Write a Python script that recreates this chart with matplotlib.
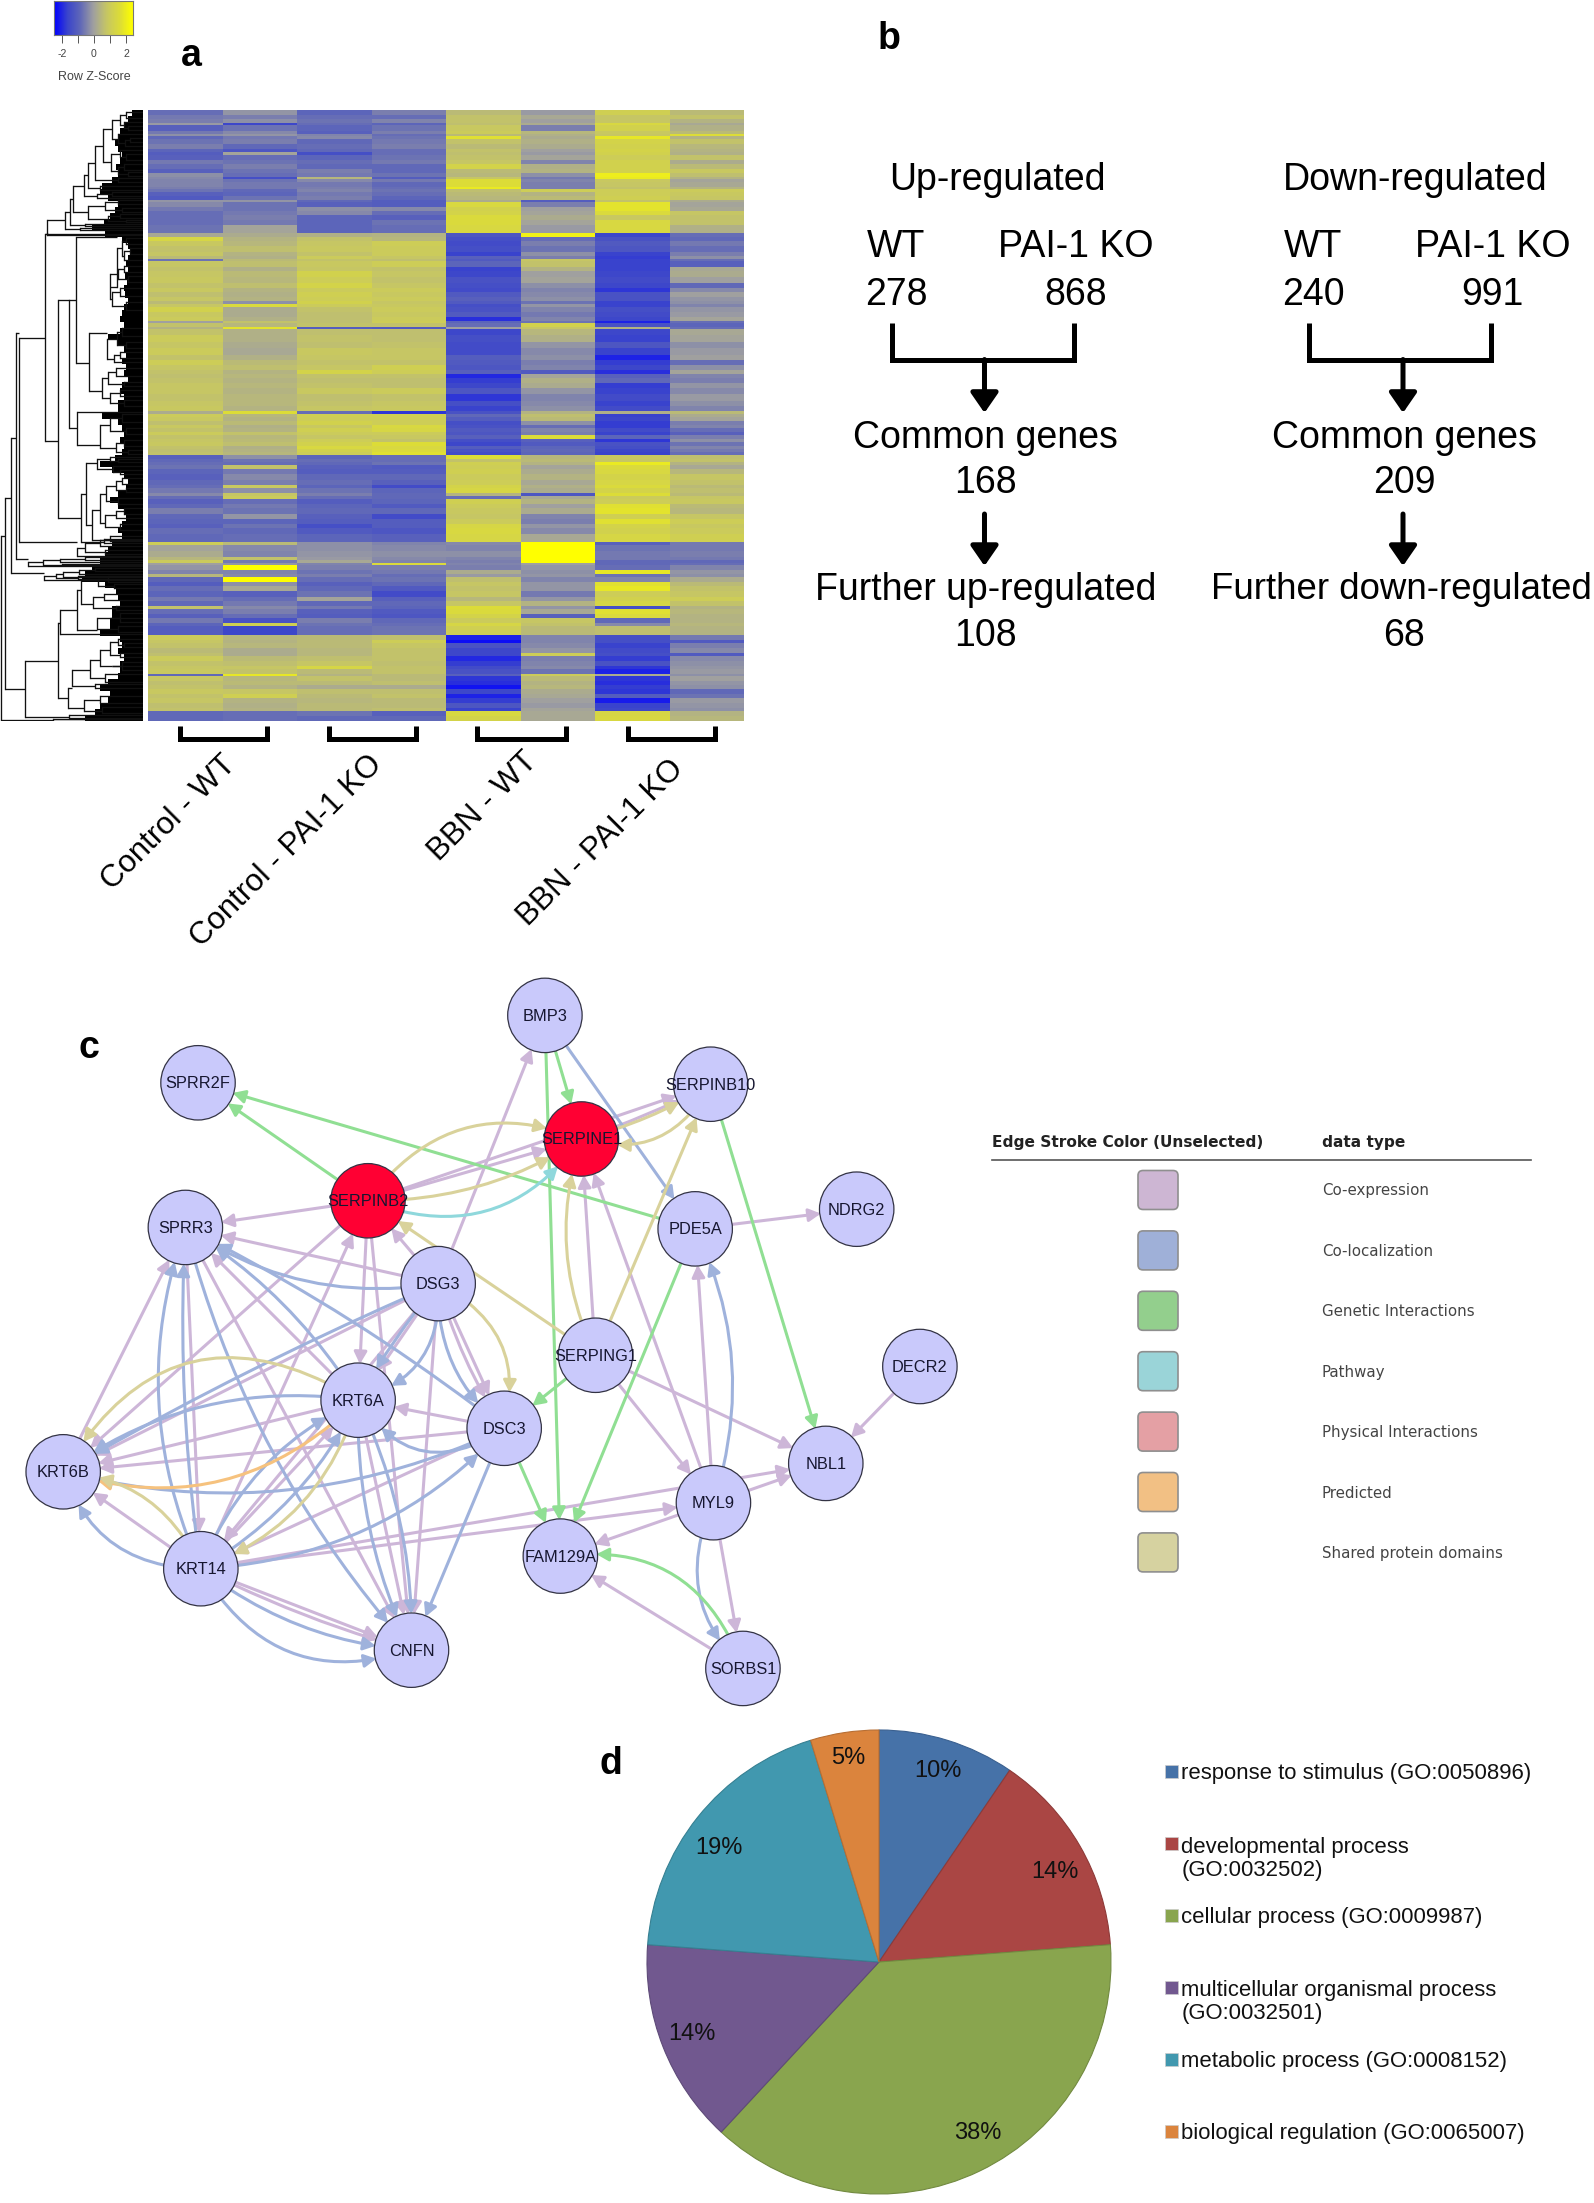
import numpy as np
import matplotlib
matplotlib.use('Agg')
import matplotlib.pyplot as plt
from matplotlib.colors import LinearSegmentedColormap
from matplotlib.patches import FancyArrowPatch, FancyBboxPatch, Rectangle

plt.rcParams['font.family'] = ['Liberation Sans', 'DejaVu Sans']

# %%
# panel a: heat map bands, genes per band and row z-scores of the 8 samples
band_genes = [
    5, 4, 4, 2, 6, 3, 2, 3, 5, 5, 3, 3, 5, 4, 5, 4, 4, 2, 3, 5, 2, 3, 4, 4, 2, 5, 4, 4, 5, 5, 8,
    4, 4, 5, 6, 4, 3, 2, 6, 4, 6, 6, 5, 4, 5, 4, 3, 3, 5, 5, 4, 2, 4, 2, 6, 7, 6, 7, 5, 5, 5, 4, 4, 5, 5, 6, 7, 5, 5,
    3, 3, 4, 4, 3, 4, 3, 4, 3, 4, 3, 3, 3,
    4, 3, 3, 4, 5, 6, 5, 3, 5, 3, 3, 5, 4, 6, 5, 5, 4, 6, 8,
    3, 6, 6, 3, 3,
    2, 5, 4, 3, 5, 4, 5, 6, 4, 5, 3, 5, 4, 5, 3, 9,
    5, 3, 5, 5, 3, 5, 5, 3, 5, 2, 5, 4, 4, 5, 4, 5, 5, 3, 5, 5,
]
band_z = [
    [-.9, -.2, -1.1, -.6, .7, -.1, 1.4, .7],
    [-.7, -.6, -.9, -.9, .9, .2, 1.0, .9],
    [-.6, -.3, -.8, -.5, .9, .0, 1.0, .5],
    [-.1, -1.9, -.9, -1.1, .8, .3, 1.8, .2],
    [-1.2, -.8, -1.1, -.8, 1.1, -.6, 1.5, .4],
    [-.7, -.4, -1.2, -.6, 1.2, .6, 1.1, .7],
    [-.3, -.2, -.5, -.9, .7, .4, 1.0, 2.0],
    [-1.0, -.7, -.4, -.8, 2.1, .3, 2.3, .5],
    [-.8, -.6, -1.0, -.7, .9, .4, 1.6, .9],
    [-.6, -1.0, -.9, -.6, .7, .3, 1.5, .6],
    [-1.1, -1.5, -1.0, -.9, .9, .0, 1.6, .5],
    [-1.3, .1, -1.7, -.9, .8, -.1, 1.5, .4],
    [-1.2, -.9, -1.1, -.8, .9, .1, 1.3, .9],
    [-.7, -.8, -.9, -.7, 1.0, -.5, 1.5, .3],
    [-.9, -.6, -1.0, -1.0, 1.6, .4, 1.5, .7],
    [-1.2, -.8, -.6, -1.0, .7, .5, 1.5, 1.1],
    [-.3, -.9, -.7, -.8, .6, -.3, 2.5, .8],
    [-.4, -1.7, .6, -1.3, 1.0, -.7, 2.4, .5],
    [-.5, -.8, -.4, -.7, 2.0, -.5, 1.1, .1],
    [-.5, -.7, -.7, -1.0, 2.0, -.6, 1.0, .2],
    [-.6, -.7, -.6, -.9, 2.4, -.6, .9, .5],
    [-.8, -1.0, -.5, -.8, .8, 1.3, 1.3, 1.2],
    [-1.2, -1.1, -.7, -.9, .7, .5, 1.3, 1.1],
    [-1.4, -.8, -.6, -1.1, .6, .7, 1.4, 1.0],
    [-.2, -.2, -1.0, -1.3, .3, -1.3, .9, .3],
    [-.4, -.8, -1.2, -1.3, 1.8, -.6, 2.2, .1],
    [-.7, -.8, -.3, -.4, 1.5, .0, 2.2, .2],
    [-.9, -.7, -.4, -.9, 1.6, .1, 1.9, 1.0],
    [-.9, -.6, -1.1, -1.2, 1.9, .3, 1.1, .9],
    [-.9, -.7, -1.1, -.8, 1.9, .1, 1.8, .9],
    [-.8, .1, -1.1, -.9, 1.8, -.1, 1.8, .4],
    # yellow controls
    [.2, .3, .4, .5, -1.5, 2.6, -1.9, -.9],
    [1.7, .5, .9, .6, -1.7, -.9, -1.6, -1.0],
    [1.1, .6, 1.0, 1.3, -1.8, -.6, -1.4, -.7],
    [.9, .8, 1.1, 1.2, -1.7, -.8, -1.5, -.9],
    [1.0, .5, .9, 1.2, -2.0, -.3, -2.0, -.6],
    [.7, .4, 1.2, 1.0, -1.2, -.6, -2.1, -.3],
    [-.8, .7, .9, .8, -1.4, 1.0, -2.0, -.9],
    [1.0, .8, 1.1, 1.3, -1.1, .9, -2.0, -1.2],
    [.9, .4, 1.0, .9, -2.0, .5, -2.0, .2],
    [1.0, .7, 1.5, 1.0, -1.9, .0, -1.9, .3],
    [1.1, .6, 1.3, .9, -1.6, .1, -1.8, .0],
    [.9, .8, 1.6, 1.0, -1.7, -.3, -1.9, -1.0],
    [1.1, .5, 1.2, 1.2, -1.8, -.5, -2.2, -.4],
    [.8, .4, 1.4, 1.1, -1.4, -.4, -1.6, .0],
    [1.0, .5, 1.3, 1.2, -1.2, -.3, -1.6, -.2],
    [.7, -.3, 1.5, 1.0, -1.4, -.8, -2.0, -.3],
    [1.0, 1.9, 1.2, 1.1, -1.7, -.2, -2.0, -.5],
    [1.5, .3, .9, 1.2, -1.6, -.5, -1.7, -.2],
    [1.1, .3, .8, 1.1, -1.4, -.7, -1.8, -.1],
    [1.2, .4, .8, 1.2, -2.3, -.5, -1.9, .1],
    [.0, .9, .8, 1.3, -1.1, -.8, -2.5, -.9],
    [.9, .6, .9, .9, -.9, 1.5, -1.6, -1.1],
    [.5, 2.2, -1.3, -1.4, .0, 1.0, .5, -.9],
    [.9, .4, .8, .8, -1.9, .6, -1.9, .2],
    [1.2, .4, .9, .8, -1.7, .4, -2.0, .1],
    [1.0, .3, .8, .9, -1.8, -.2, -1.5, -.3],
    [1.2, .2, 1.1, 1.0, -1.8, -.4, -2.0, -.1],
    [.9, .4, 1.0, 1.0, -1.3, -.3, -2.5, .0],
    [1.3, .7, .9, .9, -1.4, -.6, -2.1, -.9],
    [1.0, .8, 1.0, 1.4, -1.5, -.5, -1.9, -.3],
    [.9, .5, 1.6, 1.3, -1.2, -1.4, -2.3, .1],
    [.8, .6, .9, .9, -2.4, .1, -1.2, -.5],
    [.9, .5, .8, .8, -2.1, .4, -1.0, -.6],
    [1.0, .6, .9, .8, -1.9, .3, -2.1, -.2],
    [1.0, .5, 1.1, 1.2, -1.5, -.2, -2.0, -.4],
    [.9, .6, .8, .9, -2.2, -.5, -1.8, -.1],
    [1.0, .6, .9, 1.0, -1.7, -.4, -2.0, -.3],
    [1.1, .5, 1.0, 1.1, -2.0, -.3, -1.8, -.5],
    [.3, 2.0, -.9, -2.2, -1.6, .5, .4, .7],
    [1.2, .6, 1.4, 1.4, -1.0, .8, -2.0, .3],
    [1.1, .5, 1.3, 1.3, -1.3, .7, -1.9, .1],
    [.8, .7, 1.5, 1.3, -1.7, -.3, -2.1, -.6],
    [1.1, .4, 1.1, 1.8, -1.6, -.9, -2.1, -.5],
    [.9, .5, 1.4, 1.7, -1.4, -.5, -1.8, -.9],
    [1.2, .9, 1.2, 1.2, -1.5, -.6, -2.0, -1.2],
    [.9, .6, 1.0, 1.1, -1.2, 2.0, -1.1, -.6],
    [1.0, .7, 1.3, .9, -1.7, -1.2, -2.2, -.3],
    [1.1, .8, 1.5, 2.0, -1.9, -1.4, -1.6, -.8],
    [.9, .4, 1.8, 1.8, -1.3, -1.1, -1.7, -.5],
    [.8, .5, 1.5, 1.9, -1.6, -1.0, -1.9, -.7],
    [.9, .6, 1.3, 2.1, -1.8, -1.1, -2.0, -.9],
    # blue controls
    [-1.2, -.3, -1.1, -.9, 2.0, .6, 1.1, .8],
    [-1.0, -.8, -.9, -.9, .9, .7, 1.0, .9],
    [-.9, -.9, -1.0, -.8, 1.4, .5, 2.4, .5],
    [-.8, .9, -1.2, -1.4, 1.3, .1, 1.9, .2],
    [-1.1, -.7, -1.3, -1.3, 1.4, .3, 1.8, .6],
    [-1.2, -.4, -1.0, -1.0, 1.2, .5, 1.6, 1.0],
    [-1.0, -.6, -.9, -1.2, 1.3, .2, 1.7, .9],
    [-.9, 1.1, -1.1, -1.8, 1.6, .4, 1.9, .7],
    [-.7, -.3, -.8, -1.1, 1.7, .3, 1.6, .8],
    [-.4, 1.0, -.6, -1.0, .5, -1.5, 2.0, .7],
    [-.9, 1.2, -.9, -1.0, -.9, .2, 1.2, 1.0],
    [-1.2, -.9, -1.3, -1.1, 1.4, .5, 1.3, 1.1],
    [-1.0, -.7, -1.1, -1.4, 1.2, .0, 2.1, .7],
    [-.6, -.8, -1.0, -1.0, 1.1, .3, 2.2, .6],
    [-1.0, -.2, -1.2, -1.8, 1.0, -.5, 1.4, 1.0],
    [-1.1, -1.1, -1.3, -1.3, 1.2, -.6, 2.1, 1.3],
    [-1.2, -.8, -1.7, -1.3, 1.7, -.2, 1.6, 1.1],
    [-.9, -1.0, -1.4, -1.5, 1.8, -.4, 1.5, 1.2],
    [-1.0, -.9, -1.1, -1.2, 1.7, .2, 1.7, 1.4],
    # gray block
    [1.3, .7, -.3, -.5, -.4, 3, -1.2, -.7],
    [.1, -.4, -.3, -.4, -.5, 3, -.8, -.7],
    [.3, -.5, -.2, -.3, -.3, 3, -.7, -.6],
    [.6, .9, -.1, -.4, -.5, 3, -.7, -.7],
    [1.2, -.7, .2, -.5, -.6, 3, -1.0, -1.0],
    [.0, -.2, -.5, 1.9, -.5, .0, -1.0, -.9],
    [-.2, 3, -.6, -.6, -.6, -.2, -.9, -.5],
    [-.5, -.5, -.8, -.7, .3, -.3, 2.3, -.2],
    [.6, -.4, -.6, -.9, -.1, -.2, -.8, -.3],
    [-1.0, 3, -.9, -.8, .8, -.5, -.5, .3],
    [-1.3, -.3, -1.2, -1.0, 1.0, -.2, 2.1, .7],
    [-.9, .2, -1.0, -1.4, .9, -.2, 2.3, .9],
    [-1.1, -1.2, -.8, -1.8, 1.0, -.7, 1.3, 1.0],
    [-.7, -.9, .1, -1.2, .6, -.2, 1.5, 1.3],
    [-1.0, -.7, -1.0, -1.0, 1.0, .5, 1.7, .9],
    [.9, -.4, -.7, -1.1, 2.0, -.2, -1.7, .5],
    [-.9, -.6, -1.2, -1.4, 1.9, .2, 2.1, .6],
    [-1.2, -.9, -1.3, -1.5, 1.6, -1.2, 1.9, .5],
    [-.7, -1.6, -.6, -1.0, 1.2, 1.0, -1.0, .5],
    [-1.1, 1.4, -.8, -.9, 1.7, .9, -.4, .6],
    [-1.3, -1.9, -.9, -.8, 1.4, .7, .8, .5],
    # bottom block
    [1.2, .6, .7, .8, -2.5, -.5, -1.7, -.7],
    [1.0, .5, .7, 1.3, -2.8, -.5, -1.7, -1.4],
    [.9, .6, .7, 1.0, -1.6, -.4, -2.0, -.6],
    [.7, .3, .6, .9, -1.9, -.2, -1.8, -.4],
    [.8, .3, .6, .9, -1.9, 1.3, -1.7, -1.4],
    [1.2, .7, .8, .9, -2.4, -.6, -2.1, -.4],
    [.9, .8, 1.0, .8, -2.1, -.5, -1.6, -.3],
    [1.0, 1.0, 1.7, .9, -1.8, -.4, -2.2, -.2],
    [1.1, .9, .7, .9, -1.6, -.8, -2.5, -.1],
    [-1.0, 2.3, .5, .7, -1.2, 1.2, .3, -.3],
    [1.0, .6, .9, .7, -2.2, .7, -2.2, .0],
    [.8, .7, .7, .8, -2.3, .5, -2.3, -.2],
    [.9, .5, .3, .3, -2.7, .6, -2.1, -.3],
    [1.1, 1.0, .8, .8, -1.9, .3, -2.2, -1.0],
    [.9, 1.4, .7, .9, -2.5, .2, -1.3, -.8],
    [1.0, .5, .6, .7, -2.1, .0, -2.6, -.1],
    [.8, .4, .7, .7, -1.5, -.1, -2.0, -.2],
    [.9, .5, .7, .8, -2.0, .1, -1.9, -.3],
    [-1.0, -.9, -.8, -1.2, 1.8, .2, 1.7, .5],
    [-1.0, -.9, -1.0, -1.0, 1.6, .2, 1.8, .6],
]
group_labels = ['Control - WT', 'Control - PAI-1 KO', 'BBN - WT', 'BBN - PAI-1 KO']

# dendrogram merge tree: (height, a, b) or (height, row, a, b), a plain number is a leaf row
top_tree = (47, 123,
    (65,
        (70,
            (73,
                (84,
                    (88,
                        (95,
                            (103,
                                (112, (120, (126, 2, 8), (124, 12, (128, 16, 20))), (118, 24, (125, (130, 28, 32), 36))),
                                (111, (120, 40, (126, 44, 50)), (118, (124, 54, 60), (128, 62, 66)))),
                            (118, 68, 72)),
                        (100, 76, 80)),
                    (97, (112, 82, 86), 88)),
                (88, (105, (118, 90, 94), (122, 98, 102)), (108, (120, 104, 108), (126, 110, 112)))),
            (85, 114, 116)),
        (80, 118, 120)),
    124)
yellow_tree = (69, 190,
    (76,
        (117, 127, (122, (126, 128, 134), (124, (130, 138, 144), 150)),
            (110, (118, (124, 156, 162), (128, 166, 172)), (112, (120, 178, 186), (126, 192, 200)))),
        (89, 253,
            (107, 223, (117, (122, 218, 226), (126, 232, 238)), (114, (120, 242, 248), 252)),
            (102, 281, (108, (116, 258, 266), (124, 272, 276)), (110, (120, 280, 286), (124, 290, 296))))),
    (77, 318, 302,
        (100, 335, (110, (122, 304, 312), (126, 318, 324)), (116, (124, 330, 336), (128, 340, 344)))))
blue_tree = (81, 408,
    (86, 384,
        (97, 353, (110, 347, (118, 349, 352)), (113, 356, (120, 360, 364))),
        (92, 415,
            (100, 400,
                (106, 384, (116, (122, 368, 374), (126, 378, 382)), (118, 388, 394)),
                (105, 413, (116, (124, 398, 404), 408), (120, 414, 420))),
            (110, 430, 426, 431))),
    (104, 432, 429, 433))
mixed_tree = (25, 579,
    (58, 551,
        (60, 513,
            (77, 500,
                (81, 480, (98, 470, (108, 466, 472), (114, 474, 478)), (93, 494, (104, 484, 490), (116, 496, 500))),
                (97, 520, (110, 508, (120, 503, 512)), (118, 516, 522))),
            524),
        (68, 588,
            (72, 578,
                (90, 560,
                    (100, 550, (110, 540, (118, 529, (124, 533, 537)), (120, 543, 547)), (112, 556, (122, 552, 560))),
                    (105, 568, 564, 572)),
                (95, 576, 574, 578)),
            (84, 598, (100, 590, 586, 593), (102, 601, 597, 603)))),
    (69, 607, 605, 608))
dendro_tree = (1, 502,
    (5, 426,
        (11, 388,
            (16, 328,
                (19, 223,
                    (45, (47, 124, top_tree, 125),
                        (58, 331, yellow_tree, blue_tree)),
                    (77, 432, (85, (100, 430, 436), (105, 440, 444)), 446)),
                (28, 449, (43, (60, (85, 447, 450), 452), (62, 454, 455)), 456)),
            (44, 463, (56, (63, (79, (95, 458, 461), 464), 467), (78, 466, 469)), 470)),
        mixed_tree),
    (53, 610, 609, 611))
# left edge of the black leaf mass, read every 6 rows or so
fringe_left = [
    132, 128, 124, 120, 118, 115, 118, 122, 120, 116,
    118, 112, 102, 100, 108, 118, 115, 110, 104, 92,
    105, 122, 128, 130, 128, 126, 128, 125, 127, 124, 125, 128, 124, 122, 120, 124, 120,
    108, 118, 124, 126, 122, 126, 124, 128, 122, 120, 124, 118, 118,
    102, 118, 122, 124, 120, 124, 122, 115,
    100, 112, 124, 128, 126, 118, 110, 118, 124, 126, 122, 118, 122, 112,
    108, 105, 100, 92, 85, 82,
    105, 116, 118, 120, 112, 112, 110, 110, 100,
    120, 122, 118, 124, 120, 120, 118, 108, 100,
    110, 108, 100, 95, 85,
]

# %%
# panel b: flow text
up_title, down_title = 'Up-regulated', 'Down-regulated'
flow_up = ['WT', 'PAI-1 KO', '278', '868', 'Common genes', '168', 'Further up-regulated', '108']
flow_down = ['WT', 'PAI-1 KO', '240', '991', 'Common genes', '209', 'Further down-regulated', '68']

# %%
# panel c: network
nodes = ['BMP3', 'SPRR2F', 'SERPINB10', 'SERPINE1', 'NDRG2', 'SERPINB2', 'SPRR3', 'PDE5A', 'DSG3', 'SERPING1',
         'DECR2', 'KRT6A', 'DSC3', 'NBL1', 'KRT6B', 'MYL9', 'FAM129A', 'KRT14', 'CNFN', 'SORBS1']
red_nodes = ['SERPINB2', 'SERPINE1']
edges_coexp = [
    ('DSG3', 'BMP3', 0), ('SERPINB2', 'SERPINB10', 0), ('SERPINB2', 'SERPINE1', 0), ('SERPINE1', 'SERPINB10', .04),
    ('SERPINB2', 'SPRR3', 0), ('DSG3', 'SPRR3', 0), ('DSG3', 'SERPINB2', 0), ('KRT14', 'SERPINB2', 0),
    ('SERPINB2', 'KRT6B', 0), ('SERPINB2', 'KRT6A', 0), ('SERPINB2', 'CNFN', 0), ('DSG3', 'KRT6B', 0),
    ('DSG3', 'KRT14', 0), ('DSG3', 'KRT6A', 0), ('DSG3', 'DSC3', 0), ('DSG3', 'DSC3', .08), ('DSG3', 'CNFN', 0),
    ('SPRR3', 'KRT14', 0), ('KRT6B', 'SPRR3', 0), ('SPRR3', 'CNFN', 0), ('KRT6A', 'SPRR3', 0), ('KRT6A', 'KRT6B', 0),
    ('KRT14', 'KRT6A', 0), ('DSC3', 'KRT6A', 0), ('DSC3', 'KRT6B', 0), ('DSC3', 'KRT14', 0), ('KRT14', 'KRT6B', 0),
    ('KRT14', 'CNFN', 0), ('KRT14', 'CNFN', .05), ('KRT6A', 'CNFN', 0), ('PDE5A', 'NDRG2', 0),
    ('SERPING1', 'SERPINE1', 0), ('MYL9', 'SERPINE1', 0), ('SERPING1', 'MYL9', 0), ('SERPING1', 'NBL1', 0),
    ('MYL9', 'PDE5A', 0), ('MYL9', 'NBL1', 0), ('KRT14', 'NBL1', 0), ('MYL9', 'FAM129A', 0), ('KRT14', 'MYL9', 0),
    ('MYL9', 'SORBS1', 0), ('SORBS1', 'FAM129A', 0), ('DECR2', 'NBL1', 0),
]
edges_coloc = [
    ('BMP3', 'PDE5A', 0), ('DSG3', 'SPRR3', -.2), ('KRT6A', 'SPRR3', .12), ('DSC3', 'SPRR3', .05), ('SPRR3', 'CNFN', .12),
    ('KRT14', 'SPRR3', -.2), ('KRT14', 'SPRR3', -.05), ('KRT6A', 'KRT6B', .2), ('DSG3', 'KRT6B', .03), ('KRT14', 'KRT6B', -.35),
    ('KRT14', 'KRT6A', -.2), ('KRT14', 'KRT6A', .15), ('KRT14', 'CNFN', .15), ('KRT14', 'CNFN', .4), ('DSC3', 'KRT6B', -.18),
    ('DSC3', 'CNFN', 0), ('DSG3', 'KRT6A', .05), ('DSG3', 'KRT6A', -.4), ('DSG3', 'DSC3', .25), ('KRT6A', 'CNFN', .12),
    ('KRT6A', 'CNFN', -.12), ('KRT14', 'DSC3', .2), ('DSC3', 'KRT6A', -.5), ('MYL9', 'PDE5A', .2), ('MYL9', 'SORBS1', .35),
]
edges_genetic = [
    ('PDE5A', 'SPRR2F', 0), ('SERPINB2', 'SPRR2F', 0), ('BMP3', 'SERPINE1', 0), ('BMP3', 'FAM129A', 0),
    ('SERPINB10', 'NBL1', 0), ('PDE5A', 'FAM129A', 0), ('DSC3', 'FAM129A', 0), ('SERPING1', 'DSC3', 0),
    ('SORBS1', 'FAM129A', .4),
]
edges_pathway = [('SERPINB2', 'SERPINE1', .38)]
edges_predicted = [('KRT6A', 'KRT6B', -.3)]
edges_shared = [
    ('SERPINB2', 'SERPINE1', -.38), ('SERPINB2', 'SERPINE1', .15), ('SERPINE1', 'SERPINB10', .08), ('SERPINB10', 'SERPINE1', -.4),
    ('SERPING1', 'SERPINE1', -.2), ('SERPING1', 'SERPINB10', 0), ('SERPING1', 'SERPINB2', 0), ('DSG3', 'DSC3', -.4),
    ('KRT6A', 'KRT6B', .5), ('KRT14', 'KRT6B', .3), ('KRT6A', 'KRT14', -.25),
]
legend_types = ['Co-expression', 'Co-localization', 'Genetic Interactions', 'Pathway',
                'Physical Interactions', 'Predicted', 'Shared protein domains']

# %%
# panel d: pie, gene counts per GO term
go_terms = ['response to stimulus (GO:0050896)', 'developmental process\n(GO:0032502)', 'cellular process (GO:0009987)',
            'multicellular organismal process\n(GO:0032501)', 'metabolic process (GO:0008152)',
            'biological regulation (GO:0065007)']
go_counts = [2, 3, 8, 3, 4, 1]

# %%
# layout, in pixels of the 1135 wide view unless noted
W, H = 1594, 2203
s = W / 1135
node_pos = {'BMP3': (388, 723), 'SPRR2F': (141, 771), 'SERPINB10': (506, 772), 'SERPINE1': (414, 811),
            'NDRG2': (610, 861), 'SERPINB2': (262, 855), 'SPRR3': (132, 874), 'PDE5A': (495, 875), 'DSG3': (312, 914),
            'SERPING1': (424, 965), 'DECR2': (655, 973), 'KRT6A': (255, 997), 'DSC3': (359, 1017), 'NBL1': (588, 1042),
            'KRT6B': (45, 1048), 'MYL9': (508, 1070), 'FAM129A': (399, 1108), 'KRT14': (143, 1117), 'CNFN': (293, 1175),
            'SORBS1': (529, 1188)}
edge_colors = ['#CDB6D8', '#9FB2DC', '#90DF93', '#8FD8DC', '#F6C27E', '#D9D29B']
swatch_colors = ['#CDB6D3', '#9FB0D8', '#93CF8D', '#9AD4D8', '#E4A0A4', '#F2C084', '#D6D2A0']
pie_colors = ['#4672A8', '#AA4644', '#89A54E', '#71588F', '#4198AF', '#DB843D']
pie_edges = ['#3A6090', '#8E3A38', '#728A40', '#5E4A78', '#368092', '#B76E33']


def px_axes(x0, y0, x1, y1):
    return fig.add_axes([x0 / W, 1 - y1 / H, (x1 - x0) / W, (y1 - y0) / H])


fig = plt.figure(figsize=(W / 100, H / 100), dpi=100)
canvas = fig.add_axes([0, 0, 1, 1], zorder=5)
canvas.set_xlim(0, W)
canvas.set_ylim(H, 0)
canvas.axis('off')
canvas.patch.set_alpha(0)

# %%
# heat map, the colour ramp is read from the picture at z = -3 ... 3
z_cmap = LinearSegmentedColormap.from_list(
    'bgy', ['#0000ff', '#3a44cc', '#6068b8', '#a0a0a0', '#c6c664', '#dcdc38', '#ffff00'])
heat = px_axes(148, 110, 744, 721)
row_edges = np.concatenate([[0], np.cumsum(band_genes)])
heat.pcolormesh(np.arange(9), row_edges, np.array(band_z), cmap=z_cmap, vmin=-3, vmax=3)
heat.set_ylim(row_edges[-1], 0)
heat.axis('off')

# colour key
key = px_axes(54, 1, 133, 35)
key.imshow(np.linspace(-3, 3, 200)[None, :], aspect='auto', cmap=z_cmap, vmin=-3, vmax=3, extent=[-2.5, 2.44, 0, 1])
key.set_yticks([])
key.set_xticks([-2, -1, 0, 1, 2], ['-2', '', '0', '', '2'], fontsize=7.6, color='#444444')
key.tick_params(axis='x', length=6, width=.7, color='#555555', pad=4)
for sp in key.spines.values():
    sp.set_color('#777777')
    sp.set_linewidth(.8)
canvas.text(94, 77, 'Row Z-Score', ha='center', va='center', fontsize=9, color='#444444')


# dendrogram
def draw_tree(ax, node):
    if not isinstance(node, tuple):
        return node, None
    height = node[0]
    kids = node[1:] if len(node) == 3 else node[2:]
    ys = []
    for kid in kids:
        y, kid_h = draw_tree(ax, kid)
        ax.plot([height, 143 if kid_h is None else kid_h], [y, y], color='#111111', lw=.95, solid_capstyle='butt')
        ys.append(y)
    ax.plot([height, height], [min(ys), max(ys)], color='#111111', lw=.95)
    row = np.mean(ys) if len(node) == 3 else node[1]
    return row, height


tree_ax = px_axes(0, 110, 143, 721)
fringe_rows = np.linspace(0, 611, len(fringe_left) + 1)
tree_ax.fill_betweenx(fringe_rows, np.append(fringe_left, fringe_left[-1]), 143, step='post', color='black', lw=0)
draw_tree(tree_ax, dendro_tree)
tree_ax.set_xlim(0, 143)
tree_ax.set_ylim(611, 0)
tree_ax.axis('off')

# sample brackets and labels
for x0, x1 in [(128, 190), (234, 296), (340, 403), (447, 509)]:
    canvas.plot([x0 * s, x0 * s, x1 * s, x1 * s], [517 * s, 526 * s, 526 * s, 517 * s], color='black', lw=3.6,
                solid_joinstyle='miter', solid_capstyle='butt')
for label, (cx, cy) in zip(group_labels, [(120, 586), (204, 606), (344, 574), (428, 600)]):
    canvas.text(cx * s, cy * s, label, rotation=45, ha='center', va='center', rotation_mode='anchor', fontsize=22.5)

# %%
# panel b
def flow(x_mid, x_l, x_r, labels):
    for (x, y), t in zip([(x_l + 3, 176), (x_r + 1, 176), (x_l + 3, 210), (x_r + 1, 210), (x_mid + 1, 312), (x_mid + 1, 344),
                          (x_mid + 1, 420), (x_mid + 1, 453)], labels):
        # the long bottom line of the right column just fits the page
        size = 26.4 if t == 'Further down-regulated' else 27
        canvas.text(x * s - (3 if t == 'Further down-regulated' else 0), y * s, t, ha='center', va='center', fontsize=size)
    canvas.plot([x_l * s, x_l * s, x_r * s, x_r * s], [230 * s, 256 * s, 256 * s, 230 * s], color='black', lw=3.6,
                solid_joinstyle='miter', solid_capstyle='butt')
    for y0, y1 in [(256, 294), (366, 403)]:
        canvas.annotate('', xy=(x_mid * s, y1 * s), xytext=(x_mid * s, y0 * s),
                        arrowprops=dict(arrowstyle='-|>,head_length=0.55,head_width=0.38', color='black', lw=3.6,
                                        mutation_scale=22, shrinkA=0, shrinkB=0))


canvas.text(710 * s, 128 * s, up_title, ha='center', va='center', fontsize=27)
canvas.text(1008 * s, 128 * s, down_title, ha='center', va='center', fontsize=27)
flow(701, 635, 765, flow_up)
flow(999, 932, 1062, flow_down)

# panel letters
for letter, x, y in [('a', 136, 40), ('b', 633, 28), ('c', 63, 746), ('d', 435, 1256)]:
    canvas.text(x * s, y * s, letter, fontsize=27, fontweight='bold', ha='center', va='center')

# %%
# network, edges first then nodes on top
edge_sets = [edges_coexp, edges_coloc, edges_genetic, edges_pathway, edges_predicted, edges_shared]
for edge_list, c in zip(edge_sets, edge_colors):
    for a, b, rad in edge_list:
        xa, ya = node_pos[a]
        xb, yb = node_pos[b]
        canvas.add_patch(FancyArrowPatch((xa * s, ya * s), (xb * s, yb * s), connectionstyle=f'arc3,rad={rad}',
                                         arrowstyle='-|>,head_length=0.6,head_width=0.32', mutation_scale=12,
                                         color=c, lw=2.2, shrinkA=26, shrinkB=26, zorder=2))
node_x = [node_pos[n][0] * s for n in nodes]
node_y = [node_pos[n][1] * s for n in nodes]
node_c = ['#FF0033' if n in red_nodes else '#C9C9FB' for n in nodes]
canvas.scatter(node_x, node_y, s=(2 * 26.5 * s * .72) ** 2, c=node_c, edgecolors='#333344', linewidths=.9, zorder=3)
for n, x, y in zip(nodes, node_x, node_y):
    canvas.text(x, y + 1, n, ha='center', va='center', fontsize=11.8, color='#161630', zorder=4)

# network legend, full size pixels
canvas.text(992, 1142, 'Edge Stroke Color (Unselected)', fontsize=11.1, fontweight='bold', va='center',
            family='DejaVu Sans', color='#222222')
canvas.text(1322, 1142, 'data type', fontsize=11.1, fontweight='bold', va='center', family='DejaVu Sans', color='#222222')
canvas.plot([992, 1531], [1160, 1160], color='#555555', lw=1.2)
for i, (label, c) in enumerate(zip(legend_types, swatch_colors)):
    y = 1190 + i * 60.4
    canvas.add_patch(FancyBboxPatch((1141, y - 16.5), 34, 33, boxstyle='round,pad=3,rounding_size=5', fc=c, ec='#8f8f8f', lw=1.2))
    canvas.text(1322, y + 1, label, fontsize=10.8, va='center', family='DejaVu Sans', color='#444444')

# %%
# pie
pie_ax = px_axes(879 - 232, 1962 - 232, 879 + 232, 1962 + 232)
wedges, _ = pie_ax.pie(go_counts, colors=pie_colors, startangle=90, counterclock=False, radius=1,
                       wedgeprops=dict(lw=.8))
for w, c in zip(wedges, pie_edges):
    w.set_edgecolor(c)
pie_ax.set_xlim(-1, 1)
pie_ax.set_ylim(-1, 1)
for count, (x, y) in zip(go_counts, [(668, 1261), (751, 1333), (696, 1519), (493, 1448), (512, 1316), (604, 1252)]):
    canvas.text(x * s, y * s, f'{100 * count / sum(go_counts):.0f}%', ha='center', va='center', fontsize=17, color='#111111')
for term, c, y0, y1 in zip(go_terms, pie_colors, [1772, 1844, 1916, 1988, 2060, 2132], [1774, 1859, 1918, 2002, 2062, 2134]):
    canvas.add_patch(Rectangle((1165, y0 - 7), 13, 13, fc=c, ec='#cccccc', lw=.5))
    canvas.text(1181.5, y1, term, fontsize=15.9, va='center', color='#111111', linespacing=1.15)

fig.savefig('out.png', dpi=100, facecolor='white')
